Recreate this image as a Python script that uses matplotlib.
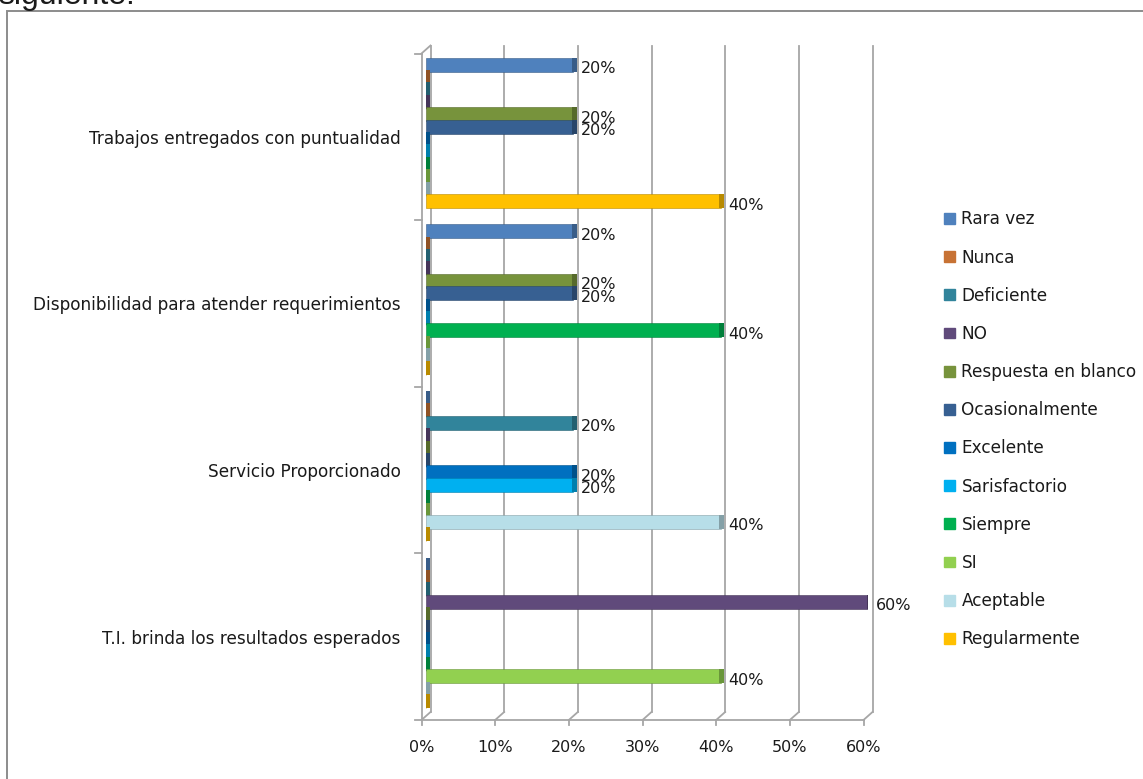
import numpy as np
import matplotlib
matplotlib.use('Agg')
import matplotlib.pyplot as plt
import matplotlib.colors as mcolors
from matplotlib.transforms import Affine2D, IdentityTransform
from matplotlib.patches import Rectangle
from matplotlib.lines import Line2D

# Preguntas de la encuesta (de arriba hacia abajo)
categorias = ['Trabajos entregados con puntualidad',
              'Disponibilidad para atender requerimientos',
              'Servicio Proporcionado',
              'T.I. brinda los resultados esperados']

# Respuestas posibles
respuestas = ['Rara vez', 'Nunca', 'Deficiente', 'NO', 'Respuesta en blanco',
              'Ocasionalmente', 'Excelente', 'Sarisfactorio', 'Siempre', 'SI',
              'Aceptable', 'Regularmente']

colores = ['#4F81BD', '#C77234', '#31849B', '#604A7B', '#77933C', '#376092',
           '#0070C0', '#00B0F0', '#00B050', '#92D050', '#B7DEE8', '#FFC000']

# Porcentaje de cada respuesta por pregunta
trabajos = [0.2, 0, 0, 0, 0.2, 0.2, 0, 0, 0, 0, 0, 0.4]
disponibilidad = [0.2, 0, 0, 0, 0.2, 0.2, 0, 0, 0.4, 0, 0, 0]
servicio = [0, 0, 0.2, 0, 0, 0, 0.2, 0.2, 0, 0, 0.4, 0]
resultados = [0, 0, 0, 0.6, 0, 0, 0, 0, 0, 0.4, 0, 0]

ticks_x = [0, 0.1, 0.2, 0.3, 0.4, 0.5, 0.6]
ticks_txt = ['0%', '10%', '20%', '30%', '40%', '50%', '60%']

datos = np.array([trabajos, disponibilidad, servicio, resultados])

W, H = 1143, 779
fig = plt.figure(figsize=(W / 100, H / 100), dpi=100)
fig.patch.set_facecolor('white')

# plano medio donde van las barras
ax = fig.add_axes([426 / W, 63 / H, 442 / W, 666.5 / H])
ax.set_xlim(0, 0.6)
ax.set_ylim(len(categorias), 0)
ax.axis('off')

gris = '#A6A6A6'
texto = '#1a1a1a'
frente = ax.transData + Affine2D().translate(-4.5, -4)
fondo = ax.transData + Affine2D().translate(4.5, 4)

def px(tr, x, y):
    return tr.transform((x, y))

def linea(p0, p1, **kw):
    fig.add_artist(Line2D([p0[0], p1[0]], [p0[1], p1[1]], transform=IdentityTransform(),
                          color=gris, lw=1.3, **kw))

ncat = len(categorias)
# lineas de la pared del fondo
for t in ticks_x:
    ax.plot([t, t], [0, ncat], color=gris, lw=1.3, transform=fondo, clip_on=False, zorder=0)
    linea(px(frente, t, ncat), px(fondo, t, ncat))
    a = px(frente, t, ncat)
    linea(a, (a[0], a[1] - 5))
# pared izquierda y piso
ax.plot([0, 0], [0, ncat], color=gris, lw=1.3, transform=frente, clip_on=False, zorder=0)
ax.plot([0, 0.6], [ncat, ncat], color=gris, lw=1.3, transform=frente, clip_on=False, zorder=0)
linea(px(frente, 0, 0), px(fondo, 0, 0))
for c in range(ncat + 1):
    a = px(frente, 0, c)
    linea(a, (a[0] - 7, a[1]))

for t, s in zip(ticks_x, ticks_txt):
    a = px(frente, t, ncat)
    fig.text(a[0] / W, (a[1] - 28) / H, s, ha='center', va='center', fontsize=11.5, color=texto)

for c, nombre in enumerate(categorias):
    a = px(frente, 0, c + 0.5)
    fig.text((a[0] - 21) / W, (a[1] - 2) / H, nombre, ha='right', va='center',
             fontsize=12.2, color=texto)

# barras
paso = 12.4 / 166.6
alto = paso * 1.12
tapa = 0.6 / 442 * 5
etiqueta = ax.transData + Affine2D().translate(8, -4)
for s, (nombre, col) in enumerate(zip(respuestas, colores)):
    y = np.arange(ncat) + 0.5 + (s - 5.5) * paso
    vals = datos[:, s]
    oscuro = tuple(np.array(mcolors.to_rgb(col)) * 0.72)
    ax.barh(y, vals, height=alto, color=col, edgecolor=oscuro, linewidth=0.4,
            label=nombre, zorder=2 + s)
    ax.barh(y, tapa, left=vals - tapa * 0.3, height=alto, color=oscuro, linewidth=0,
            zorder=2 + s)
    for yy, v in zip(y, vals):
        if v > 0:
            ax.text(v, yy, f'{v:.0%}', transform=etiqueta, ha='left', va='center',
                    fontsize=11.5, color=texto, zorder=20)

manijas = [Rectangle((0, 0), 1, 1, color=c) for c in colores]
fig.legend(manijas, respuestas, loc='upper left', bbox_to_anchor=(936 / W, 1 - 202 / H),
           frameon=False, fontsize=12.2, handlelength=0.6, handleheight=0.6,
           handletextpad=0.4, labelspacing=1.19, borderpad=0, labelcolor=texto)

# marco del grafico y texto que lo precede
fig.add_artist(Rectangle((7 / W, -0.05), 1.1, (H - 11) / H + 0.05, transform=fig.transFigure,
                         fill=False, edgecolor='#8C8C8C', lw=1.4, clip_on=False))
fig.text(-0.002, 1 - 4 / H, 'siguiente:', fontsize=23, family='Liberation Sans',
         va='baseline', ha='left', color=texto)

fig.savefig('out.png', dpi=100)
